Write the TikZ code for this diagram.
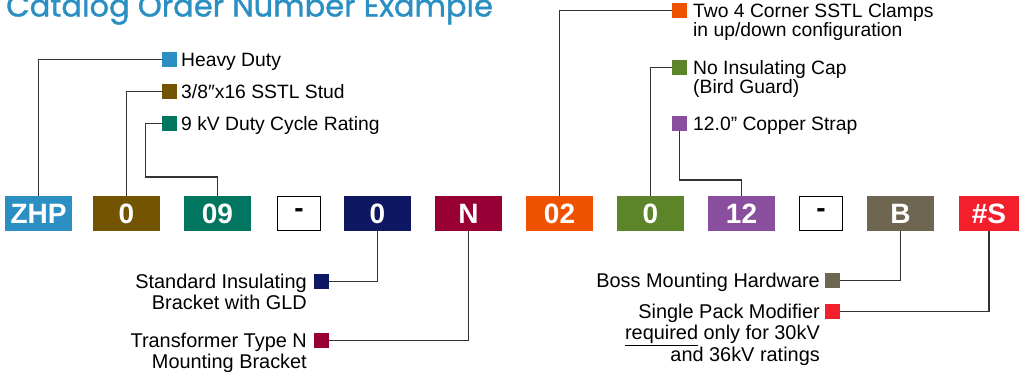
\documentclass[tikz,border=0pt]{standalone}
\usepackage{fontspec}
\setmainfont{Liberation Sans}
\newfontfamily\titlefont{Poppins}[FakeBold=1.2]
\definecolor{cblue}{HTML}{2B8FC3}
\definecolor{cbrown}{HTML}{735400}
\definecolor{cteal}{HTML}{00755F}
\definecolor{cnavy}{HTML}{0E1761}
\definecolor{cmaroon}{HTML}{980035}
\definecolor{corange}{HTML}{EE5200}
\definecolor{cgreen}{HTML}{5C8428}
\definecolor{cpurple}{HTML}{8A4E9F}
\definecolor{ctaupe}{HTML}{6E6651}
\definecolor{cred}{HTML}{F41F2D}
\definecolor{cline}{HTML}{333333}
\begin{document}
\begin{tikzpicture}[x=1pt,y=-1pt,
  codebox/.style={draw=none, minimum width=67pt, minimum height=35pt, inner sep=0pt, text=white, font=\fontsize{28}{28}\selectfont\bfseries},
  dashbox/.style={draw=black, line width=1.3pt, fill=white, minimum width=42.7pt, minimum height=33.7pt, inner sep=0pt, text=black, font=\fontsize{28}{28}\selectfont\bfseries},
  keysq/.style={minimum size=15pt, inner sep=0pt, draw=none},
  lbltop/.style={font=\fontsize{19.3}{19}\selectfont, inner sep=0pt, align=left, text=black},
  lblbot/.style={font=\fontsize{19.9}{21.5}\selectfont, inner sep=0pt, align=right, text=black},
  conn/.style={draw=cline, line width=1.2pt}]
\useasboundingbox (0,0) rectangle (1020,372);
\clip (0,0) rectangle (1020,372);
% title
\node[anchor=base west, inner sep=0pt, text=cblue, font=\titlefont\fontsize{30.5}{30.5}\selectfont] (title) at (6,16.5) {Catalog Order Number Example};
% code boxes
\node[codebox, fill=cblue]   (bzhp) at (38.5,213.5) {ZHP};
\node[codebox, fill=cbrown]  (bst)  at (126.5,213.5) {0};
\node[codebox, fill=cteal]   (b09)  at (217.5,213.5) {09};
\node[dashbox]               (bd1)  at (299,213.5) {-};
\node[codebox, fill=cnavy]   (bnv)  at (377.5,213.5) {0};
\node[codebox, fill=cmaroon] (bN)   at (468.5,213.5) {N};
\node[codebox, fill=corange] (b02)  at (559.5,213.5) {02};
\node[codebox, fill=cgreen]  (bg0)  at (650.5,213.5) {0};
\node[codebox, fill=cpurple] (b12)  at (741.5,213.5) {12};
\node[dashbox]               (bd2)  at (821,213.5) {-};
\node[codebox, fill=ctaupe]  (bB)   at (900.5,213.5) {B};
\node[codebox, fill=cred, minimum width=60pt] (bS) at (989,213.5) {\#S};
% top-left keys
\node[keysq, fill=cblue]  (khd) at (169.5,59.5) {};
\node[keysq, fill=cbrown] (kst) at (169.5,91.5) {};
\node[keysq, fill=cteal]  (kkv) at (169.5,123.5) {};
\node[lbltop, anchor=base west] (thd) at (181,66) {Heavy Duty};
\node[lbltop, anchor=base west] (tst) at (181,98) {3/8{\char"2033}x16 SSTL Stud};
\node[lbltop, anchor=base west] (tkv) at (181,130) {9 kV Duty Cycle Rating};
% top-right keys
\node[keysq, fill=corange] (kcl) at (679.5,10.5) {};
\node[keysq, fill=cgreen]  (kcap) at (679.5,67.5) {};
\node[keysq, fill=cpurple] (kcs) at (679.5,123.5) {};
\node[lbltop, anchor=base west] (tcl) at (693,36) {Two 4 Corner SSTL Clamps\\in up/down configuration};
\node[lbltop, anchor=base west] (tcap) at (693,93) {No Insulating Cap\\(Bird Guard)};
\node[lbltop, anchor=base west] (tcs) at (693,130) {12.0{\char"22} Copper Strap};
% bottom keys
\node[keysq, fill=cnavy]   (kbr) at (321.5,281.5) {};
\node[keysq, fill=cmaroon] (ktr) at (321.5,340.5) {};
\node[keysq, fill=ctaupe]  (kbo) at (832.5,280.5) {};
\node[keysq, fill=cred]    (ksp) at (832.5,311.5) {};
\node[lblbot, anchor=base east] (tbr) at (307,309.5) {Standard Insulating\\Bracket with GLD};
\node[lblbot, anchor=base east] (ttr) at (307,368.5) {Transformer Type N\\Mounting Bracket};
\node[lblbot, anchor=base east] (tbo) at (820,287) {Boss Mounting Hardware};
\node[lblbot, anchor=base east] (tsp) at (820,361) {Single Pack Modifier\\\underline{required} only for 30kV\\and 36kV ratings};
% bend points
\coordinate (c09) at (217.5,177);
\coordinate (c12) at (741.5,180);
% connectors
\draw[conn] (khd.west) -| (bzhp.north);
\draw[conn] (kst.west) -| (bst.north);
\draw[conn] (kkv.west) -- ++(-16,0) |- (c09) -- (b09.north);
\draw[conn] (kcl.west) -| (b02.north);
\draw[conn] (kcap.west) -| (bg0.north);
\draw[conn] (kcs.south) |- (c12) -- (b12.north);
\draw[conn] (kbr.east) -| (bnv.south);
\draw[conn] (ktr.east) -| (bN.south);
\draw[conn] (kbo.east) -| (bB.south);
\draw[conn] (ksp.east) -| (bS.south);
\end{tikzpicture}
\end{document}
